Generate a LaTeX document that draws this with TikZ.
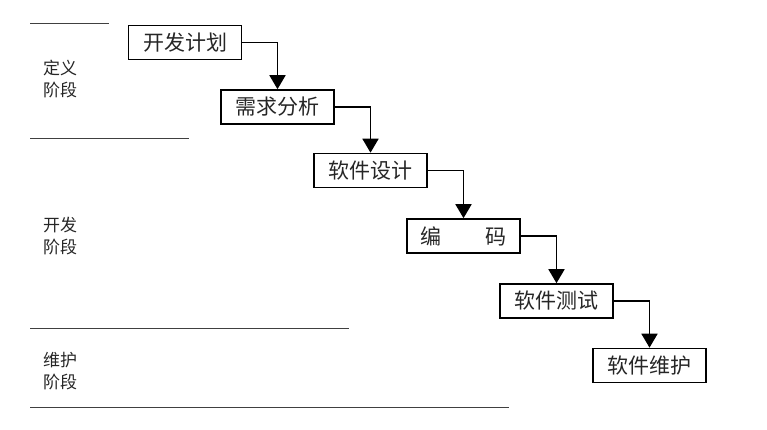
\documentclass[tikz,border=0pt]{standalone}
\usepackage{fontspec}
\newfontfamily\cjk{Noto Sans CJK SC}
\usepackage{tikz}
\usetikzlibrary{arrows.meta, positioning, calc}
\tikzstyle{arrow} = [line width=1.8pt, black, -{Triangle[length=14pt, width=16pt]}]
\tikzstyle{stagebox} = [draw, line width=1.6pt, minimum width=113pt, minimum height=34pt, inner sep=0pt, font=\cjk\fontsize{21}{24}\selectfont, text=black!85]
\tikzstyle{divider} = [line width=1pt, black!75]
\tikzstyle{phase} = [align=left, font=\cjk\fontsize{17}{22}\selectfont, text=black!85]

\begin{document}
\begin{tikzpicture}[x=1pt, y=-1pt]
            \useasboundingbox (0,0) rectangle (767,430);

            % phase dividers
            \draw[divider] (30,24) -- (109,24);
            \draw[divider] (30,139) -- (189,139);
            \draw[divider] (30,328) -- (349,328);
            \draw[divider] (30,407) -- (509,407);

            \node[phase] (define) at (60,79) {定义\\阶段};
            \node[phase] (develop) at (60,236) {开发\\阶段};
            \node[phase] (maintain) at (60,371) {维护\\阶段};

            % steps
            \node[stagebox] (plan) at (185,42.5) {开发计划};
            \node[stagebox] (req) at (277.5,107) {需求分析};
            \node[stagebox] (design) at (370.5,170.5) {软件设计};
            \node[stagebox] (code) at (463.5,236) {编\hspace{2.1em}码};
            \node[stagebox] (test) at (556.5,301) {软件测试};
            \node[stagebox] (maint) at (649.5,365.5) {软件维护};

            \foreach \a/\b in {plan/req, req/design, design/code, code/test, test/maint} {
                \draw[arrow] (\a.east) -| (\b.north);
            }
        \end{tikzpicture}
\end{document}
